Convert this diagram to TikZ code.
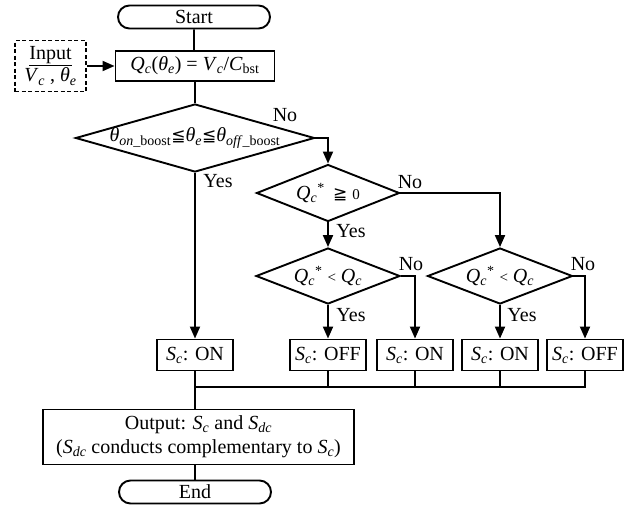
\documentclass[tikz,border=0pt]{standalone}
\usepackage{fontspec}
\setmainfont{Liberation Serif}
\newfontfamily\symfont{DejaVu Sans}
\usetikzlibrary{shapes.geometric,shapes.misc,arrows.meta}
\newcommand\vsub[2]{\textit{#1}\textsubscript{\textit{#2}}}
\newcommand\smaller{\fontsize{15}{18}\selectfont}
\begin{document}
\begin{tikzpicture}[y=-1pt, x=1pt, line width=1.9pt, font=\fontsize{20}{24}\selectfont,
  term/.style={rounded rectangle, draw, inner sep=0, minimum width=152, minimum height=23},
  proc/.style={rectangle, draw, inner sep=0},
  dec/.style={diamond, draw, inner sep=0},
  lbl/.style={inner sep=0},
  arr/.style={-{Triangle[length=12pt,width=10pt]}}]
\useasboundingbox (0,0) rectangle (637,507);

\node[term] (start) at (194,17) {Start};
\node[proc, minimum width=159, minimum height=30] (calc) at (195,66) {\vsub{Q}{c}(\vsub{θ}{e}) = \vsub{V}{c}/\textit{C}\textsubscript{bst}};
\node[proc, dashed, dash pattern=on 4pt off 2.5pt, minimum width=71, minimum height=51, align=center] (inp) at (50.5,66) {\underline{Input}\\[-2pt]\vsub{V}{c} , \vsub{θ}{e}};

\node[dec, minimum width=239, minimum height=68] (d1) at (195,138) {};
\node[lbl] (d1t) at (d1) {\textit{θ}\textsubscript{\textit{on}\_boost}{\symfont\fontsize{17}{20}\selectfont ≦}\vsub{θ}{e}{\symfont\fontsize{17}{20}\selectfont ≦}\textit{θ}\textsubscript{\textit{off}\_boost}};
\node[dec, minimum width=143, minimum height=57] (d2) at (328,193) {};
\node[lbl] (d2t) at (d2) {\vsub{Q}{c}\textsuperscript{*}\, {\symfont\fontsize{17}{20}\selectfont ≧} {\smaller 0}};
\node[dec, minimum width=144, minimum height=56] (d3) at (328,276) {};
\node[lbl] (d3t) at (d3) {\vsub{Q}{c}\textsuperscript{*} {\smaller<} \vsub{Q}{c}};
\node[dec, minimum width=145, minimum height=56] (d4) at (500,276) {};
\node[lbl] (d4t) at (d4) {\vsub{Q}{c}\textsuperscript{*} {\smaller<} \vsub{Q}{c}};

\node[proc, minimum width=76, minimum height=31] (b1) at (195,355) {\vsub{S}{c}: ON};
\node[proc, minimum width=76, minimum height=31] (b2) at (328,355) {\vsub{S}{c}: OFF};
\node[proc, minimum width=76, minimum height=31] (b3) at (415,355) {\vsub{S}{c}: ON};
\node[proc, minimum width=76, minimum height=31] (b4) at (500,355) {\vsub{S}{c}: ON};
\node[proc, minimum width=76, minimum height=31] (b5) at (585,355) {\vsub{S}{c}: OFF};

\node[proc, minimum width=311, minimum height=55, align=center] (out) at (198.5,437) {Output: \vsub{S}{c} and \vsub{S}{dc}\\(\vsub{S}{dc} conducts complementary to \vsub{S}{c})};
\node[term] (stop) at (195,492) {End};

\node[lbl] (no1) at (285,115) {No};
\node[lbl] (yes1) at (218,181) {Yes};
\node[lbl] (no2) at (410,182) {No};
\node[lbl] (yes2) at (351,231) {Yes};
\node[lbl] (no3) at (411,264) {No};
\node[lbl] (yes3) at (351,315) {Yes};
\node[lbl] (no4) at (583,264) {No};
\node[lbl] (yes4) at (522,315) {Yes};

\coordinate (bus) at (195,387);

\draw (start) -- (start |- calc.north);
\draw[arr] (inp) -- (calc);
\draw (calc.south -| d1.north) -- (d1.north);
\draw[arr] (d1.east) -| (d2.north);
\draw[arr] (d1.south) -- (b1.north);
\draw[arr] (d2.south) -- (d3.north);
\draw[arr] (d2.east) -| (d4.north);
\draw[arr] (d3.south) -- (b2.north);
\draw[arr] (d3.east) -| (b3.north);
\draw[arr] (d4.south) -- (b4.north);
\draw[arr] (d4.east) -| (b5.north);

\draw (b1.south) -- (b1.south |- out.north);
\draw (b5.south) |- (bus);
\draw (b2.south) -- (b2.south |- bus);
\draw (b3.south) -- (b3.south |- bus);
\draw (b4.south) -- (b4.south |- bus);
\draw (stop.north) -- (stop.north |- out.south);
\end{tikzpicture}
\end{document}
